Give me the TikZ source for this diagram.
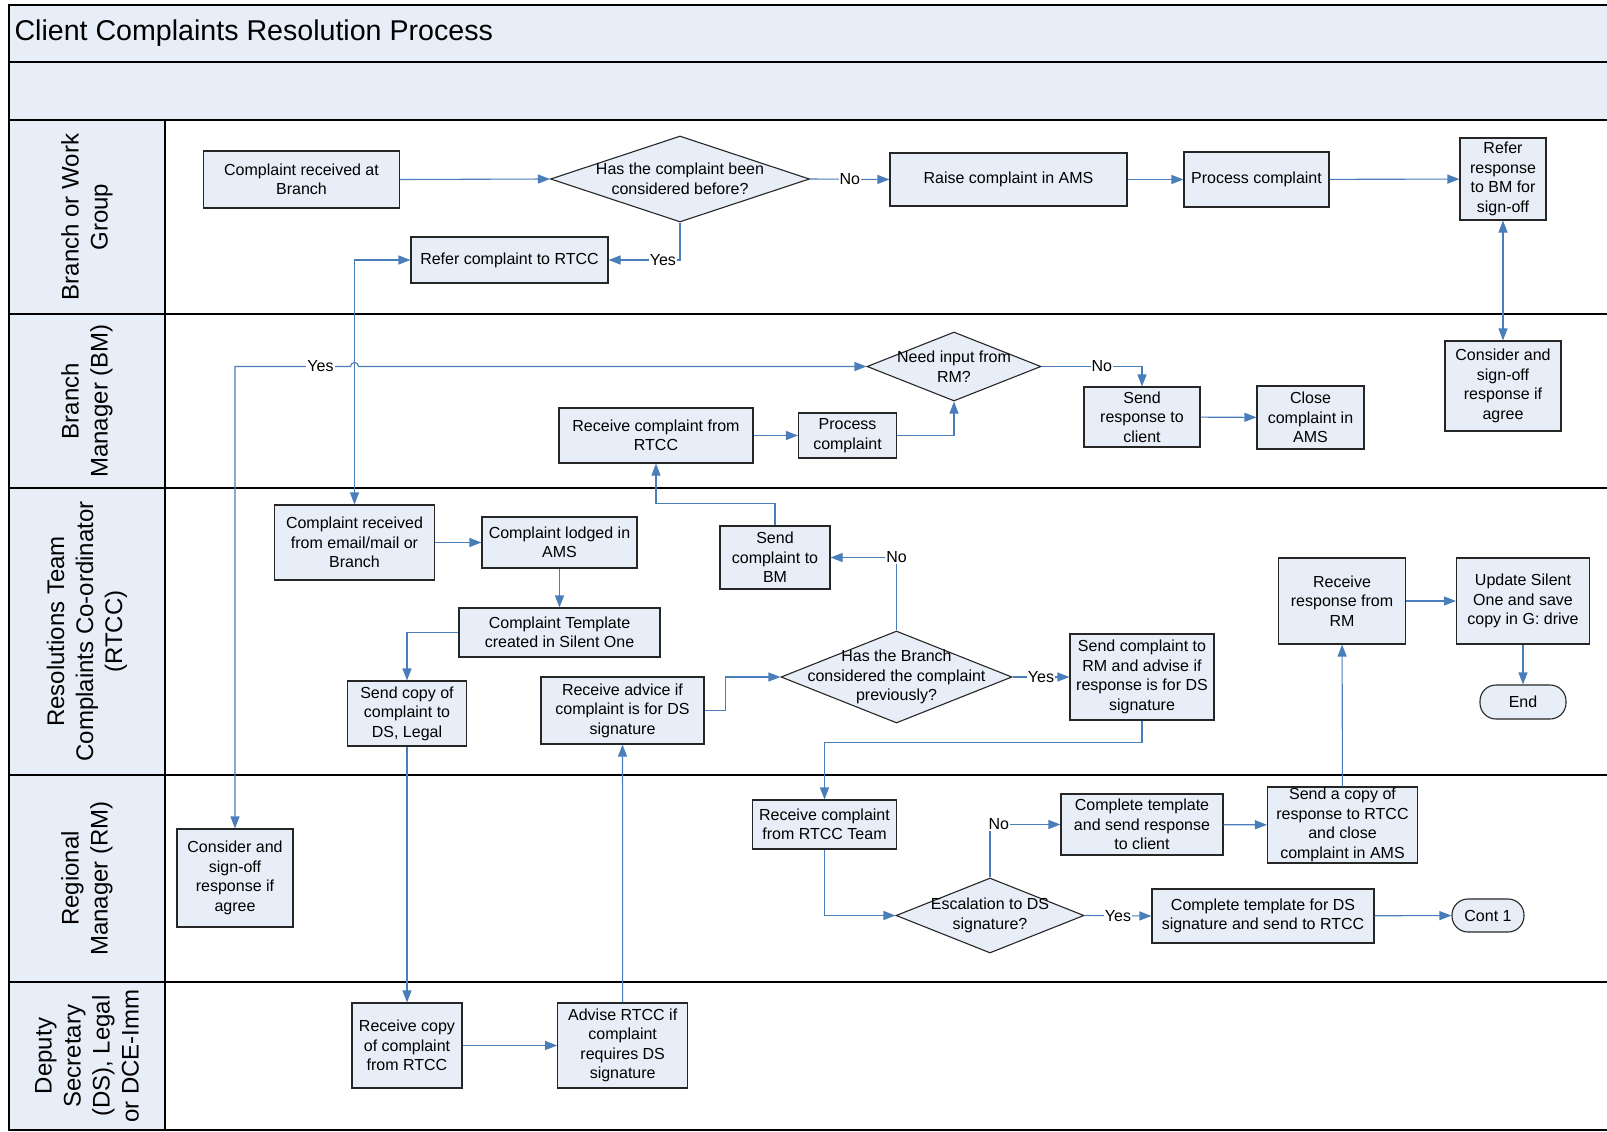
\documentclass[tikz,border=0pt]{standalone}
\usepackage{fontspec}
\setmainfont{Liberation Sans}
\usetikzlibrary{arrows.meta,shapes.geometric}
\definecolor{laneblue}{RGB}{232,238,247}
\definecolor{flowblue}{RGB}{74,126,187}
\newcommand{\boxfont}{\fontsize{16}{19.5}\selectfont}
\newcommand{\lanefont}{\fontsize{24}{29}\selectfont}

\tikzset{
  proc/.style={draw=black!85, line width=1.1, fill=laneblue, align=center, font=\boxfont, inner sep=1},
  boxsize/.style 2 args={minimum width=#1, minimum height=#2},
  decision/.style={diamond, draw=black!85, line width=1.1, fill=laneblue, inner sep=0},
  dtext/.style={align=center, font=\boxfont},
  term/.style={proc, rounded corners=16},
  flow/.style={draw=flowblue, line width=1.1, >={Triangle[length=12pt,width=9pt]}},
  lbl/.style={fill=white, inner sep=1, font=\boxfont},
  lane/.style={rotate=90, align=center, font=\lanefont},
}

\begin{document}
\begin{tikzpicture}[x=1pt,y=-1pt]
      \useasboundingbox (0,0) rectangle (1607,1132);
      \fill[white] (0,0) rectangle (1607,1132);

      % pool and lanes
      \fill[laneblue] (9,5) rectangle (1607,120);
      \fill[laneblue] (9,120) rectangle (165,1130);
      \draw[line width=1.4] (1607,5) -- (9,5) -- (9,1130) -- (1607,1130);
      \foreach \yy in {62,120,314,488,775,982}
        \draw[line width=1.2] (9,\yy) -- (1607,\yy);
      \draw[line width=1.2] (165,120) -- (165,1130);

      \node[anchor=west, font=\fontsize{28.6}{34}\selectfont] (title) at (11,33) {Client Complaints Resolution Process};
      \node[lane] (lanebranch) at (87,217) {Branch or Work\\Group};
      \node[lane] (lanebm) at (87,401) {Branch\\Manager (BM)};
      \node[lane] (lanertcc) at (87,631.5) {Resolutions Team\\Complaints Co-ordinator\\(RTCC)};
      \node[lane] (lanerm) at (87,878.5) {Regional\\Manager (RM)};
      \node[lane] (laneds) at (87,1056) {Deputy\\Secretary\\(DS), Legal\\or DCE-Imm};

      % Branch or Work Group
      \node[proc, boxsize={196}{57}] (recbranch) at (301.5,179.5) {Complaint received at\\Branch};
      \node[decision, boxsize={259}{86}, label={[dtext]center:{Has the complaint been\\considered before?}}] (before) at (680,179) {};
      \node[proc, boxsize={237}{53}] (raise) at (1008.5,179.5) {Raise complaint in AMS};
      \node[proc, boxsize={145}{55}] (process1) at (1256.5,179.5) {Process complaint};
      \node[proc, boxsize={86}{82}] (refbm) at (1503,179) {Refer\\response\\to BM for\\sign-off};
      \node[proc, boxsize={197}{46}] (refrtcc) at (509.5,260) {Refer complaint to RTCC};

      % Branch Manager
      \node[decision, boxsize={174}{69}, label={[dtext]center:{Need input from\\RM?}}] (needrm) at (954,366.5) {};
      \node[proc, boxsize={116}{60}] (sendclient) at (1142,417) {Send\\response to\\client};
      \node[proc, boxsize={107}{63}] (closeams) at (1310.5,417.5) {Close\\complaint in\\AMS};
      \node[proc, boxsize={116}{90}] (bmsign) at (1503,386) {Consider and\\sign-off\\response if\\agree};
      \node[proc, boxsize={194}{55}] (recrtcc) at (656,435.5) {Receive complaint from\\RTCC};
      \node[proc, boxsize={98}{45}] (process2) at (847.5,435.5) {Process\\complaint};

      % RTCC
      \node[proc, boxsize={160}{75}] (recemail) at (354.5,542.5) {Complaint received\\from email/mail or\\Branch};
      \node[proc, boxsize={155}{51}] (lodged) at (559.5,542.5) {Complaint lodged in\\AMS};
      \node[proc, boxsize={201}{49}] (template) at (559.5,632.5) {Complaint Template\\created in Silent One};
      \node[proc, boxsize={119}{65}] (copyds) at (407,713.5) {Send copy of\\complaint to\\DS, Legal};
      \node[proc, boxsize={163}{67}] (advice) at (622.5,710.5) {Receive advice if\\complaint is for DS\\signature};
      \node[proc, boxsize={110}{63}] (sendbm) at (775,557.5) {Send\\complaint to\\BM};
      \node[decision, boxsize={231}{92}, label={[dtext]center:{Has the Branch\\considered the complaint\\previously?}}] (branchprev) at (896.5,677) {};
      \node[proc, boxsize={144}{86}] (sendrm) at (1142,677) {Send complaint to\\RM and advise if\\response is for DS\\signature};
      \node[proc, boxsize={127}{86}] (recresp) at (1342,601) {Receive\\response from\\RM};
      \node[proc, boxsize={133}{86}] (update) at (1523,601) {Update Silent\\One and save\\copy in G: drive};
      \node[term, boxsize={86}{34}] (finish) at (1523,702) {End};

      % Regional Manager
      \node[proc, boxsize={116}{98}] (rmsign) at (235,878) {Consider and\\sign-off\\response if\\agree};
      \node[proc, boxsize={144}{49}] (recteam) at (824.5,824.5) {Receive complaint\\from RTCC Team};
      \node[decision, boxsize={188}{75}, label={[dtext]center:{Escalation to DS\\signature?}}] (escal) at (990,915.5) {};
      \node[proc, boxsize={162}{61}] (comptempl) at (1142,824.5) {Complete template\\and send response\\to client};
      \node[proc, boxsize={150}{76}] (copyresp) at (1342.5,825) {Send a copy of\\response to RTCC\\and close\\complaint in AMS};
      \node[proc, boxsize={222}{54}] (compds) at (1263,916) {Complete template for DS\\signature and send to RTCC};
      \node[term, boxsize={72}{33}] (cont) at (1488,915.5) {Cont 1};

      % DS, Legal
      \node[proc, boxsize={110}{85}] (reccopy) at (407,1045.5) {Receive copy\\of complaint\\from RTCC};
      \node[proc, boxsize={130}{85}] (advise) at (622.7,1045.5) {Advise RTCC if\\complaint\\requires DS\\signature};

      % connectors
      \draw[flow,->] (recbranch.east) -- (before.west);
      \draw[flow,->] (before.east) -- node[lbl] {No} (raise.west);
      \draw[flow,->] (raise) -- (process1);
      \draw[flow,->] (process1) -- (refbm);
      \draw[flow,->] (before.south) |- node[lbl,pos=0.62] {Yes} (refrtcc.east);
      \draw[flow,<->] (refrtcc.west) -| (recemail.north);
      \draw[flow,<->] (refbm) -- (bmsign);
      \draw[flow,<->] (rmsign.north) |- node[lbl,pos=0.87] {Yes} ([xshift=-4pt]recemail.north |- needrm.west)
        arc[start angle=180,end angle=360,radius=4] -- (needrm.west);
      \draw[flow,->] (needrm.east) -| node[lbl,pos=0.3] {No} (sendclient.north);
      \draw[flow,->] (sendclient) -- (closeams);
      \draw[flow,->] (recrtcc) -- (process2);
      \draw[flow,->] (process2.east) -| (needrm.south);
      \draw[flow,->] (recemail) -- (lodged);
      \draw[flow,->] (lodged) -- (template);
      \draw[flow,->] (template.west) -| (copyds.north);
      \draw[flow,->] (advice.east) -- ++(21,0) |- (branchprev.west);
      \draw[flow,->] (branchprev.north) |- node[lbl] {No} (sendbm.east);
      \draw[flow,->] (sendbm.north) -- ++(0,-22) -| (recrtcc.south);
      \draw[flow,->] (branchprev.east) -- node[lbl] {Yes} (sendrm.west);
      \draw[flow,->] (sendrm.south) -- ++(0,22) -| (recteam.north);
      \draw[flow,->] (recresp) -- (update);
      \draw[flow,->] (update) -- (finish);
      \draw[flow,->] (copyds) -- (reccopy);
      \draw[flow,->] (reccopy) -- (advise);
      \draw[flow,->] (advise) -- (advice);
      \draw[flow,->] (recteam.south) |- (escal.west);
      \draw[flow,->] (escal.north) |- node[lbl,pos=0.5,anchor=west,xshift=-3pt] {No} (comptempl.west);
      \draw[flow,->] (escal.east) -- node[lbl] {Yes} (compds.west);
      \draw[flow,->] (comptempl) -- (copyresp);
      \draw[flow,->] (copyresp) -- (recresp);
      \draw[flow,->] (compds) -- (cont);
    \end{tikzpicture}
\end{document}
